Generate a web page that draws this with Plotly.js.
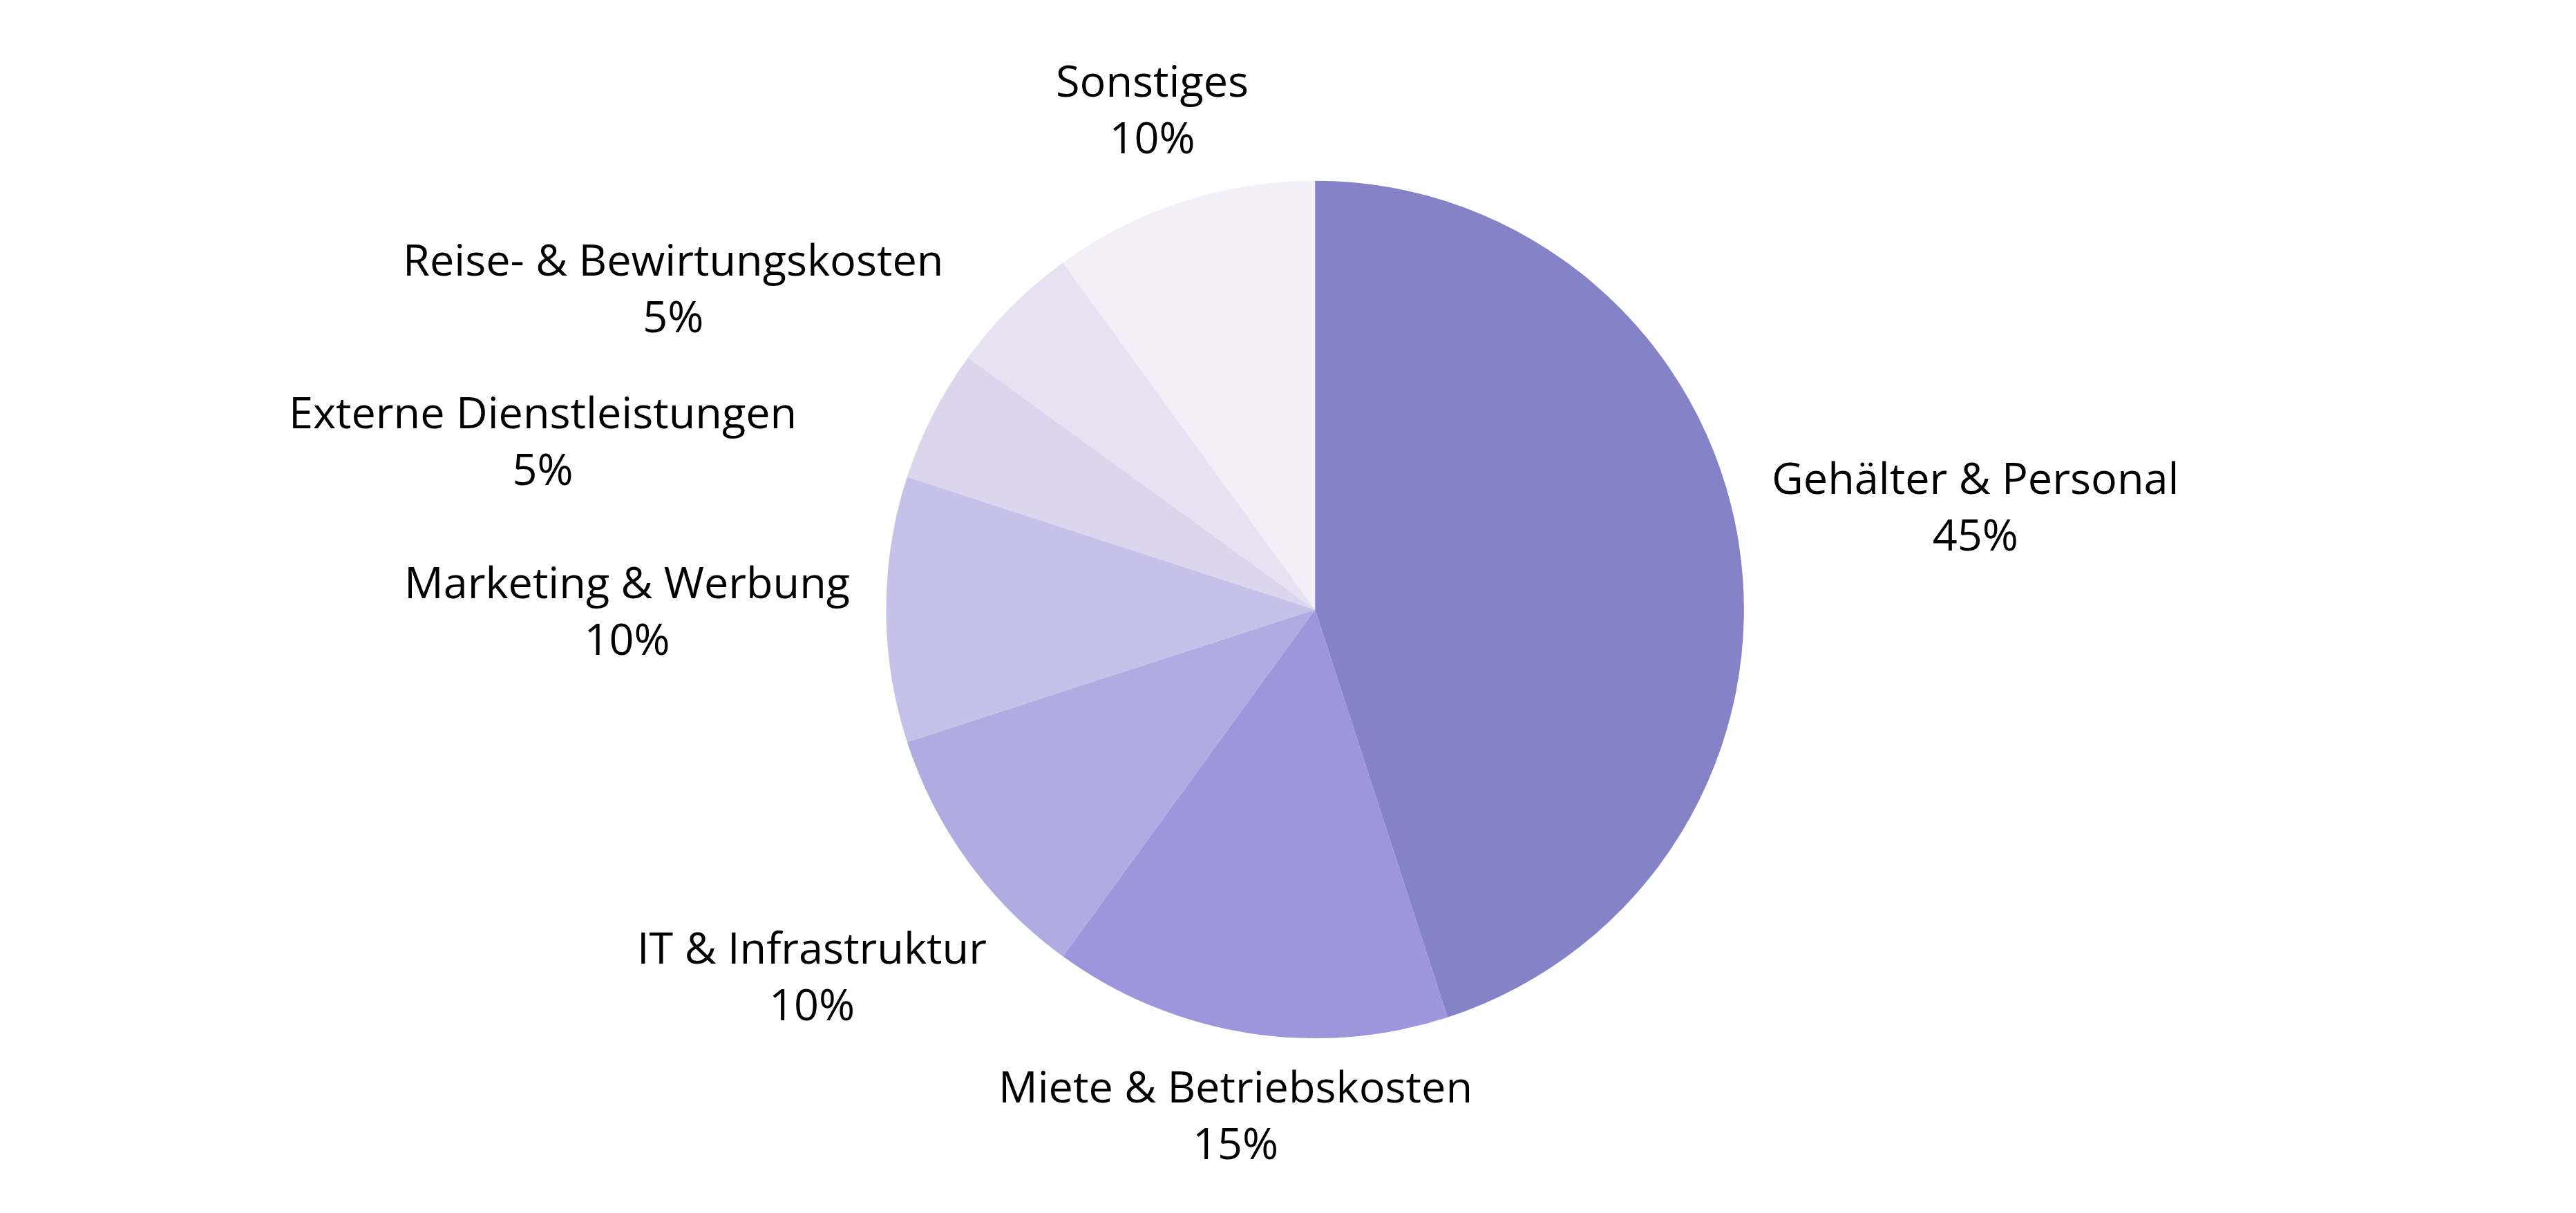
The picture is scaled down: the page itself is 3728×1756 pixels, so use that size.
<!DOCTYPE html>
<html>
<head>
<meta charset="utf-8">
<script src="https://cdn.plot.ly/plotly-3.0.1.min.js"></script>
<style>html,body{margin:0;padding:0;background:#fff;}#chart{width:3728px;height:1756px;}</style>
</head>
<body>
<div id="chart"></div>
<script>
// ---- data ----
const categories = ["Gehälter & Personal", "Miete & Betriebskosten", "IT & Infrastruktur", "Marketing & Werbung", "Externe Dienstleistungen", "Reise- & Bewirtungskosten", "Sonstiges"];
const shares = [45, 15, 10, 10, 5, 5, 10];

// ---- style / layout ----
const sliceColors = ["#8583C7", "#9C97DC", "#B0ABE1", "#C5C1E8", "#DBD6EE", "#E6E2F2", "#F2EFF9"];
const W = 3728, H = 1756;
const pieDomain = { x: [0.344, 0.677], y: [0.144, 0.851] };
// label placement: distance of label centre from pie centre (px) and angular nudge (deg)
const labelDistance = [967, 739, 900, 996, 1144, 1040, 763];
const labelAngleShift = [0, 0, 0, 0, -14.6, -18.3, 0];
const fontFamily = "'Open Sans', 'Noto Sans', sans-serif";
const fontSize = 63;

const total = shares.reduce((a, b) => a + b, 0);
const cx = W * (pieDomain.x[0] + pieDomain.x[1]) / 2;
const cy = H * (1 - (pieDomain.y[0] + pieDomain.y[1]) / 2);

let cum = 0;
const annotations = shares.map((v, i) => {
  const mid = (cum + v / 2) / total * 360;
  cum += v;
  const a = (mid + labelAngleShift[i]) * Math.PI / 180;
  const px = cx + labelDistance[i] * Math.sin(a);
  const py = cy - labelDistance[i] * Math.cos(a);
  return {
    xref: "paper", yref: "paper",
    x: px / W, y: 1 - py / H,
    xanchor: "center", yanchor: "middle",
    showarrow: false,
    align: "center",
    text: categories[i] + "<br>" + Math.round(v / total * 100) + "%",
    font: { family: fontFamily, size: fontSize, color: "#000000" }
  };
});

const trace = {
  type: "pie",
  labels: categories,
  values: shares,
  sort: false,
  direction: "clockwise",
  rotation: 0,
  textinfo: "none",
  marker: { colors: sliceColors, line: { width: 0 } },
  domain: pieDomain,
  hoverinfo: "none"
};

const layout = {
  width: W,
  height: H,
  margin: { l: 0, r: 0, t: 0, b: 0 },
  paper_bgcolor: "#ffffff",
  showlegend: false,
  font: { family: fontFamily, color: "#000000" },
  annotations: annotations
};

Plotly.newPlot("chart", [trace], layout, { staticPlot: true, displayModeBar: false });
</script>
</body>
</html>
